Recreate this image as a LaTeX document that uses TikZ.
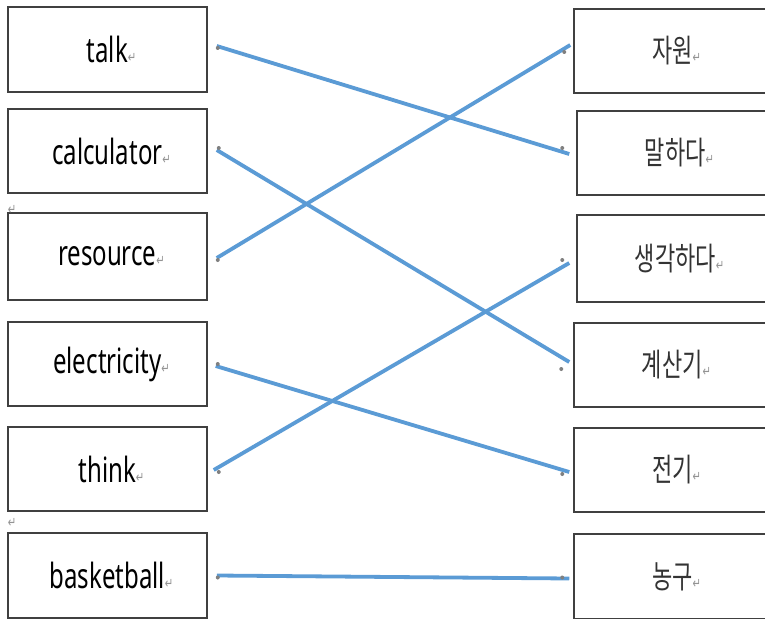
\documentclass[tikz,border=0pt]{standalone}
\usepackage{fontspec}
\setmainfont{Noto Sans}
\newfontfamily\krfont{Noto Sans CJK KR}
\newfontfamily\dvfont{DejaVu Sans}
\usetikzlibrary{calc}
\definecolor{linkblue}{HTML}{5B9BD5}
\definecolor{boxgray}{HTML}{404040}
\newcommand\retmark{{\dvfont\fontsize{10}{10}\selectfont\color{gray!85}↵}}
\newcommand\enlbl[1]{\hspace*{8pt}\scalebox{1}[1.45]{\fontsize{24}{24}\selectfont #1\retmark}}
\newcommand\krlbl[1]{\scalebox{1}[1.45]{\krfont\fontsize{22}{22}\selectfont\color{black!80}#1\retmark}}
\begin{document}
\begin{tikzpicture}[x=1pt,y=-1pt,
  lbox/.style={draw=boxgray,line width=1.5pt,minimum width=199pt,inner sep=0pt},
  rbox/.style={draw=boxgray,line width=1.5pt,minimum width=205pt,inner sep=0pt},
  link/.style={linkblue,line width=3.8pt},
  enddot/.style={fill=gray,draw=none,circle,inner sep=0pt,minimum size=4pt}]
\useasboundingbox (0,0) rectangle (765,618);
\clip (0,0) rectangle (765,618);
% left boxes
\node[lbox,minimum height=85pt] (talk) at (107.5,49.5) {\enlbl{talk}};
\node[lbox,minimum height=84pt] (calc) at (107.5,151) {\enlbl{calculator}};
\node[lbox,minimum height=87pt] (res) at (107.5,256.5) {\enlbl{resource}};
\node[lbox,minimum height=84pt] (elec) at (107.5,364) {\enlbl{electricity}};
\node[lbox,minimum height=84pt] (think) at (107.5,469) {\enlbl{think}};
\node[lbox,minimum height=85pt] (bball) at (107.5,575.5) {\enlbl{basketball}};
% right boxes
\node[rbox,minimum height=84pt] (jawon) at (676.5,51) {\krlbl{자원}};
\node[rbox,minimum height=84pt] (malhada) at (679.5,153) {\krlbl{말하다}};
\node[rbox,minimum height=87pt] (saenggak) at (679.5,258.5) {\krlbl{생각하다}};
\node[rbox,minimum height=84pt] (gyesan) at (676.5,365) {\krlbl{계산기}};
\node[rbox,minimum height=84pt] (jeongi) at (676.5,470) {\krlbl{전기}};
\node[rbox,minimum height=85pt] (nonggu) at (676.5,576.5) {\krlbl{농구}};
% stray paragraph marks
\node[inner sep=0pt] (pm1) at (12,210) {\scalebox{1}[1.45]{\retmark}};
\node[inner sep=0pt] (pm2) at (12,523) {\scalebox{1}[1.45]{\retmark}};
% connector end points
\coordinate (a1) at ($(talk.east)+(9,-3.5)$);
\coordinate (b1) at ($(malhada.west)+(-7,1)$);
\coordinate (a2) at ($(calc.east)+(9,-1)$);
\coordinate (b2) at ($(gyesan.west)+(-4,-3)$);
\coordinate (a3) at ($(res.east)+(9,1.5)$);
\coordinate (b3) at ($(jawon.west)+(-3,-6)$);
\coordinate (a4) at ($(elec.east)+(8,2)$);
\coordinate (b4) at ($(jeongi.west)+(-4,2)$);
\coordinate (a5) at ($(think.east)+(6,1)$);
\coordinate (b5) at ($(saenggak.west)+(-7,4.5)$);
\coordinate (a6) at ($(bball.east)+(9,0)$);
\coordinate (b6) at ($(nonggu.west)+(-4,2)$);
% connectors
\draw[link] (a1) -- (b1);
\draw[link] (a2) -- (b2);
\draw[link] (a3) -- (b3);
\draw[link] (a4) -- (b4);
\draw[link] (a5) -- (b5);
\draw[link] (a6) -- (b6);
% small grey anchor dots
\node[enddot] at ($(a1)+(1,2)$) {};
\node[enddot] at ($(b1)+(-7,-6)$) {};
\node[enddot] at ($(a2)+(2,-2)$) {};
\node[enddot] at ($(b2)+(-8,7)$) {};
\node[enddot] at ($(a3)+(1,2)$) {};
\node[enddot] at ($(b3)+(-6,7)$) {};
\node[enddot] at ($(a4)+(2,-2)$) {};
\node[enddot] at ($(b4)+(-7,2)$) {};
\node[enddot] at ($(a5)+(5,2)$) {};
\node[enddot] at ($(b5)+(-7,-3)$) {};
\node[enddot] at ($(a6)+(1,2)$) {};
\node[enddot] at ($(b6)+(-7,-1)$) {};
\end{tikzpicture}
\end{document}
